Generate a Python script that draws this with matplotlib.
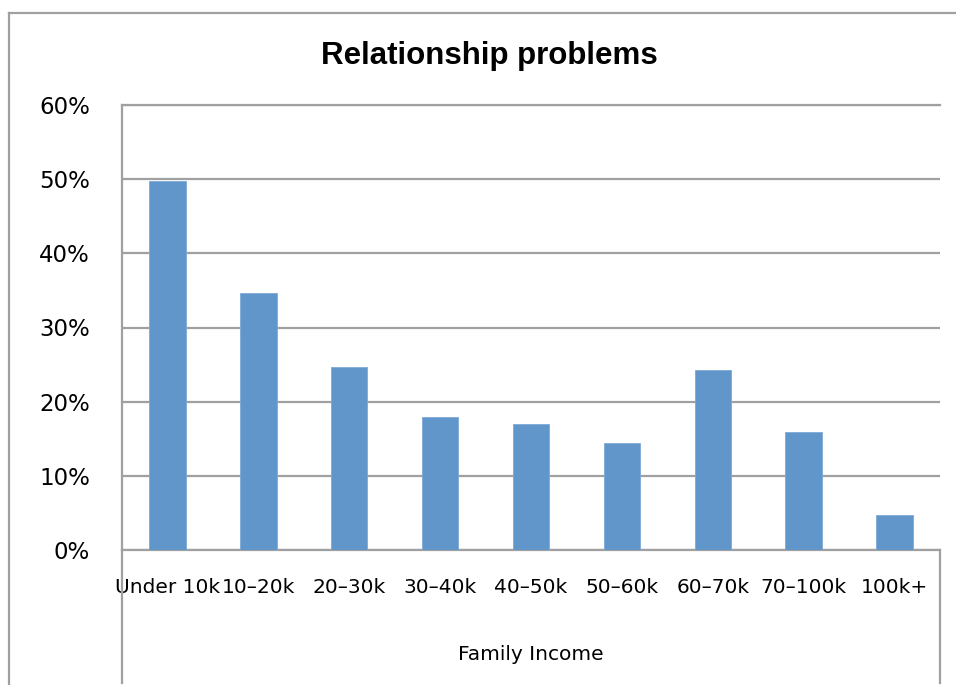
import matplotlib
matplotlib.use("Agg")
import matplotlib.pyplot as plt
from matplotlib.lines import Line2D
from matplotlib.ticker import PercentFormatter

categories = ["Under 10k", "10\u201320k", "20\u201330k", "30\u201340k", "40\u201350k",
              "50\u201360k", "60\u201370k", "70\u2013100k", "100k+"]
values = [0.497, 0.346, 0.247, 0.180, 0.170, 0.144, 0.243, 0.159, 0.047]
yticks = [0, 0.1, 0.2, 0.3, 0.4, 0.5, 0.6]

W, H = 956, 685
GRAY = "#a0a0a0"
BAR = "#6096c9"

fig = plt.figure(figsize=(W / 100, H / 100), dpi=100)
ax = fig.add_axes([122 / W, 135 / H, 818 / W, 445 / H])

x = range(len(categories))
ax.bar(x, values, width=0.4, color=BAR, edgecolor="#7fa9d6", linewidth=0.6, zorder=3)

ax.set_xlim(-0.5, len(categories) - 0.5)
ax.set_ylim(0, 0.6)
ax.set_yticks(yticks)
ax.yaxis.set_major_formatter(PercentFormatter(1.0, decimals=0))
ax.set_xticks(list(x))
ax.set_xticklabels(categories)

ax.yaxis.grid(True, color=GRAY, linewidth=1.6)
ax.set_axisbelow(True)
ax.spines["right"].set_visible(False)
for s in ["left", "bottom", "top"]:
    ax.spines[s].set_color(GRAY)
    ax.spines[s].set_linewidth(1.6)

ax.tick_params(axis="y", length=0, pad=23, labelsize=16.5)
ax.tick_params(axis="x", length=0, pad=20, labelsize=14.5)

fig.text(489 / W, 1 - 56 / H, "Relationship problems", ha="center", va="center",
         fontsize=22.5, fontweight="bold", family="Liberation Sans")
fig.text(531 / W, 1 - 655 / H, "Family Income", ha="center", va="center", fontsize=14.5)

# outer chart frame and category axis separators
fig.add_artist(Line2D([9 / W, 9 / W], [0, 1 - 13 / H], color=GRAY, lw=1.6))
fig.add_artist(Line2D([9 / W, 1], [1 - 13 / H, 1 - 13 / H], color=GRAY, lw=1.6))
for xp in [122, 940]:
    fig.add_artist(Line2D([xp / W, xp / W], [2 / H, 135 / H], color=GRAY, lw=1.6))

fig.savefig("out.png", dpi=100)
